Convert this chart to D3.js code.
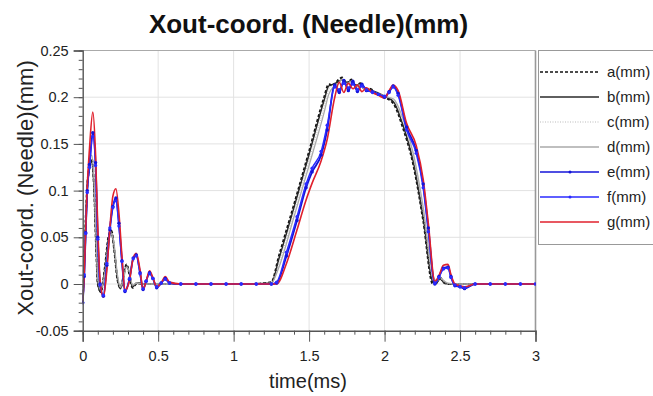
<!DOCTYPE html>
<html lang="en">
<head>
  <meta charset="UTF-8">
  <title>Xout-coord. (Needle)(mm)</title>
  <script src="https://d3js.org/d3.v7.min.js"></script>
  <style>
    body { margin: 0; background: #fff; }
    svg { font-family: "Liberation Sans", Arial, sans-serif; }
  </style>
</head>
<body>
  <svg width="653" height="396"></svg>
  <script>
    // time samples (ms)
    const timeBlack = [0, 0.02, 0.03, 0.045, 0.06, 0.075, 0.09, 0.1, 0.12, 0.15, 0.17, 0.19, 0.21, 0.23, 0.25, 0.27, 0.29, 0.31, 0.33, 0.36, 0.4, 0.5, 0.7, 0.9, 1.1, 1.25, 1.3, 1.4, 1.5, 1.6, 1.63, 1.66, 1.69, 1.72, 1.75, 1.78, 1.81, 1.84, 1.87, 1.9, 1.95, 2.0, 2.06, 2.12, 2.19, 2.256, 2.32, 2.345, 2.366, 2.39, 2.42, 2.5, 2.7, 3.0];
    const timeBlue = [0, 0.01, 0.02, 0.03, 0.045, 0.067, 0.085, 0.1, 0.115, 0.137, 0.16, 0.18, 0.2, 0.22, 0.24, 0.26, 0.28, 0.31, 0.335, 0.355, 0.38, 0.4, 0.42, 0.443, 0.465, 0.49, 0.52, 0.547, 0.575, 0.65, 0.75, 0.85, 0.95, 1.05, 1.15, 1.25, 1.285, 1.35, 1.42, 1.48, 1.52, 1.58, 1.62, 1.67, 1.7, 1.73, 1.76, 1.79, 1.82, 1.85, 1.88, 1.92, 1.96, 2.0, 2.03, 2.057, 2.09, 2.146, 2.21, 2.256, 2.29, 2.333, 2.36, 2.39, 2.42, 2.44, 2.466, 2.5, 2.53, 2.6, 2.7, 2.8, 2.9, 3.0];

    // series values (mm)
    const aVals = [-0.02, 0.07, 0.105, 0.125, 0.134, 0.105, 0.035, 0, -0.008, 0.022, 0.05, 0.057, 0.035, 0.005, -0.004, 0.008, 0.021, 0.01, -0.004, 0.001, 0, 0, 0, 0, 0, 0.002, 0.03, 0.085, 0.142, 0.2, 0.214, 0.212, 0.218, 0.221, 0.214, 0.219, 0.211, 0.215, 0.208, 0.209, 0.204, 0.2, 0.193, 0.168, 0.128, 0.068, 0, 0.001, 0.007, 0.002, 0, 0, 0, 0];
    const bVals = [-0.02, 0.068, 0.103, 0.123, 0.131, 0.103, 0.037, 0.001, -0.009, 0.02, 0.048, 0.055, 0.036, 0.006, -0.005, 0.007, 0.02, 0.011, -0.003, 0.001, 0, 0, 0, 0, 0, 0.001, 0.027, 0.082, 0.139, 0.197, 0.212, 0.214, 0.216, 0.219, 0.216, 0.217, 0.213, 0.213, 0.21, 0.208, 0.205, 0.201, 0.195, 0.171, 0.131, 0.071, 0.002, 0.001, 0.006, 0.002, 0, 0, 0, 0];
    const cVals = [-0.02, 0.069, 0.104, 0.126, 0.135, 0.108, 0.04, 0.003, -0.007, 0.018, 0.046, 0.055, 0.038, 0.008, -0.004, 0.006, 0.019, 0.012, -0.002, 0.001, 0, 0, 0, 0, 0, 0.001, 0.022, 0.077, 0.133, 0.19, 0.208, 0.213, 0.215, 0.22, 0.215, 0.218, 0.212, 0.214, 0.209, 0.208, 0.205, 0.201, 0.197, 0.175, 0.136, 0.077, 0.006, 0.002, 0.006, 0.003, 0, 0, 0, 0];
    const dVals = [-0.02, 0.07, 0.106, 0.128, 0.138, 0.112, 0.045, 0.006, -0.006, 0.015, 0.043, 0.054, 0.04, 0.01, -0.003, 0.005, 0.018, 0.013, -0.001, 0.001, 0, 0, 0, 0, 0, 0.001, 0.018, 0.072, 0.127, 0.184, 0.203, 0.211, 0.214, 0.219, 0.214, 0.217, 0.211, 0.213, 0.208, 0.207, 0.204, 0.201, 0.198, 0.178, 0.14, 0.082, 0.01, 0.003, 0.007, 0.004, 0.001, 0, 0, 0];
    const eVals = [-0.02, 0.008, 0.055, 0.1, 0.128, 0.162, 0.13, 0.05, 0, -0.013, 0.02, 0.058, 0.083, 0.092, 0.065, 0.025, -0.008, 0.005, 0.028, 0.031, 0.012, -0.006, 0.003, 0.012, 0.006, -0.004, 0.001, 0.006, 0.001, 0, 0, 0, 0, 0, 0, 0, 0.001, 0.03, 0.068, 0.103, 0.12, 0.138, 0.165, 0.213, 0.205, 0.218, 0.207, 0.217, 0.206, 0.214, 0.207, 0.206, 0.203, 0.2, 0.206, 0.212, 0.204, 0.168, 0.143, 0.107, 0.06, 0, 0.008, 0.017, 0.018, 0.008, -0.002, -0.003, -0.005, 0, 0, 0, 0, 0];
    const fVals = [-0.02, 0.01, 0.054, 0.098, 0.125, 0.158, 0.127, 0.048, -0.001, -0.012, 0.022, 0.06, 0.082, 0.089, 0.062, 0.024, -0.007, 0.006, 0.027, 0.03, 0.011, -0.005, 0.003, 0.011, 0.006, -0.003, 0.001, 0.005, 0.001, 0, 0, 0, 0, 0, 0, 0, 0.002, 0.034, 0.072, 0.107, 0.124, 0.142, 0.17, 0.211, 0.208, 0.215, 0.21, 0.214, 0.208, 0.212, 0.208, 0.205, 0.203, 0.201, 0.205, 0.211, 0.202, 0.165, 0.14, 0.103, 0.056, 0.001, 0.007, 0.016, 0.017, 0.007, -0.001, -0.003, -0.004, 0, 0, 0, 0, 0];
    const gVals = [-0.02, 0.01, 0.058, 0.104, 0.145, 0.184, 0.14, 0.06, 0.005, -0.014, 0.015, 0.06, 0.094, 0.102, 0.076, 0.03, -0.007, 0.004, 0.028, 0.033, 0.015, -0.006, 0.003, 0.014, 0.007, -0.003, 0.001, 0.008, 0.002, 0, 0, 0, 0, 0, 0, 0, 0, 0.022, 0.058, 0.09, 0.108, 0.132, 0.155, 0.2, 0.216, 0.205, 0.215, 0.209, 0.213, 0.206, 0.21, 0.205, 0.202, 0.199, 0.207, 0.213, 0.207, 0.172, 0.148, 0.112, 0.065, 0.003, 0.009, 0.02, 0.021, 0.01, 0, -0.002, -0.003, 0, 0, 0, 0, 0];

    const seriesNames = ["a(mm)", "b(mm)", "c(mm)", "d(mm)", "e(mm)", "f(mm)", "g(mm)"];
    const xTicks = [0, 0.5, 1, 1.5, 2, 2.5, 3];
    const yTicks = [-0.05, 0, 0.05, 0.1, 0.15, 0.2, 0.25];

    const series = [
      { name: seriesNames[0], t: timeBlack, v: aVals, color: "#111", width: 2, dash: "3,2" },
      { name: seriesNames[1], t: timeBlack, v: bVals, color: "#2a2a2a", width: 1.5, dash: null },
      { name: seriesNames[2], t: timeBlack, v: cVals, color: "#bbb", width: 1, dash: "1,1.5" },
      { name: seriesNames[3], t: timeBlack, v: dVals, color: "#aaa", width: 1.3, dash: null },
      { name: seriesNames[4], t: timeBlue, v: eVals, color: "#1414d8", width: 1.8, dash: null, marker: true },
      { name: seriesNames[5], t: timeBlue, v: fVals, color: "#2a2aff", width: 1.5, dash: null, marker: true },
      { name: seriesNames[6], t: timeBlue, v: gVals, color: "#e0202c", width: 1.6, dash: null }
    ];

    const svg = d3.select("svg");
    const pLeft = 82.7, pRight = 535.5, pTop = 50.5, pBottom = 330.7;

    const x = d3.scaleLinear().domain([0, 3]).range([pLeft, pRight]);
    const y = d3.scaleLinear().domain([-0.05, 0.25]).range([pBottom, pTop]);

    // grid
    const grid = svg.append("g").attr("stroke", "#e2e2e2").attr("stroke-width", 1);
    grid.selectAll("line.gx").data(xTicks.slice(1, -1)).join("line")
        .attr("x1", d => x(d)).attr("x2", d => x(d)).attr("y1", pTop).attr("y2", pBottom);
    grid.selectAll("line.gy").data(yTicks.slice(1, -1)).join("line")
        .attr("x1", pLeft).attr("x2", pRight).attr("y1", d => y(d)).attr("y2", d => y(d));

    // frame top/right
    svg.append("line").attr("x1", pLeft).attr("x2", pRight).attr("y1", pTop).attr("y2", pTop)
        .attr("stroke", "#aaa");
    svg.append("line").attr("x1", pRight).attr("x2", pRight).attr("y1", pTop).attr("y2", pBottom)
        .attr("stroke", "#999").attr("stroke-width", 1.6);

    // curves
    svg.append("clipPath").attr("id", "clip")
      .append("rect").attr("x", pLeft).attr("y", pTop).attr("width", pRight - pLeft).attr("height", pBottom - pTop);
    const plot = svg.append("g").attr("clip-path", "url(#clip)");
    const line = d3.line().curve(d3.curveMonotoneX).x(d => x(d[0])).y(d => y(d[1]));

    series.forEach(s => {
      const pts = s.t.map((t, i) => [t, s.v[i]]);
      plot.append("path")
          .attr("d", line(pts))
          .attr("fill", "none")
          .attr("stroke", s.color)
          .attr("stroke-width", s.width)
          .attr("stroke-dasharray", s.dash)
          .attr("stroke-linejoin", "round");
    });
    series.filter(s => s.marker).forEach(s => {
      plot.append("g").attr("fill", s.color)
        .selectAll("circle").data(s.t.map((t, i) => [t, s.v[i]])).join("circle")
          .attr("cx", d => x(d[0])).attr("cy", d => y(d[1])).attr("r", 1.7);
    });

    // axes
    svg.append("g").attr("transform", `translate(0,${pBottom})`)
        .call(d3.axisBottom(x).tickValues(xTicks).tickSize(11).tickPadding(9).tickFormat(d => String(d)));
    svg.append("g").attr("transform", `translate(0,${pBottom})`)
        .call(d3.axisBottom(x).tickValues(d3.range(0, 31).map(i => i / 10)).tickSize(4).tickFormat(""))
        .call(g => g.select(".domain").remove());
    svg.append("g").attr("transform", `translate(${pLeft},0)`)
        .call(d3.axisLeft(y).tickValues(yTicks).tickSize(9).tickPadding(5).tickFormat(d => String(+d.toFixed(2))));
    svg.append("g").attr("transform", `translate(${pLeft},0)`)
        .call(d3.axisLeft(y).tickValues(d3.range(-5, 26).map(i => i / 100)).tickSize(4).tickFormat(""))
        .call(g => g.select(".domain").remove());

    svg.selectAll(".tick line").attr("stroke", "#555");
    svg.selectAll(".domain").attr("stroke", "#555").attr("stroke-width", 1.4);
    svg.selectAll(".tick text").attr("font-size", 14.5).attr("fill", "#222")
        .attr("font-family", "Liberation Sans, Arial, sans-serif");

    // titles
    svg.append("text").attr("x", 308.5).attr("y", 33).attr("text-anchor", "middle")
        .attr("font-size", 26).attr("font-weight", "bold").attr("fill", "#111")
        .text("Xout-coord. (Needle)(mm)");
    svg.append("text").attr("x", 308).attr("y", 388).attr("text-anchor", "middle")
        .attr("font-size", 20).attr("fill", "#222").text("time(ms)");
    svg.append("text").attr("transform", "translate(33,188) rotate(-90)").attr("text-anchor", "middle")
        .attr("font-size", 22).attr("fill", "#222").text("Xout-coord. (Needle)(mm)");

    // legend
    const legend = svg.append("g");
    legend.append("rect").attr("x", 538.5).attr("y", 50.5).attr("width", 130).attr("height", 194)
        .attr("fill", "#fff").attr("stroke", "#999");
    const item = legend.selectAll("g.item").data(series).join("g")
        .attr("transform", (d, i) => `translate(0,${72 + i * 25})`);
    item.append("line").attr("x1", 540).attr("x2", 599).attr("y1", 0).attr("y2", 0)
        .attr("stroke", d => d.color).attr("stroke-width", d => Math.min(d.width, 1.6))
        .attr("stroke-dasharray", d => d.dash);
    item.filter(d => d.marker).append("circle").attr("cx", 570).attr("cy", 0).attr("r", 1.5)
        .attr("fill", d => d.color);
    item.append("text").attr("x", 607).attr("y", 0).attr("dy", "0.35em")
        .attr("font-size", 15).attr("fill", "#222").text(d => d.name);
  </script>
</body>
</html>
